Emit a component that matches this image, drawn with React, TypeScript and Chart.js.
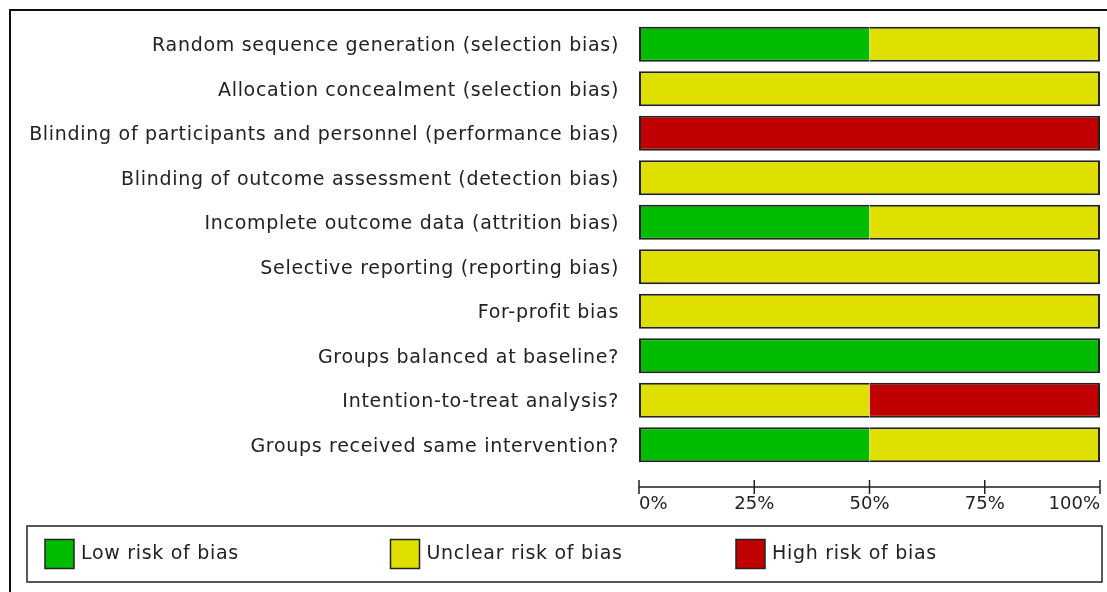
import React, { useEffect, useRef } from "react";
import { Chart, registerables } from "chart.js";

Chart.register(...registerables);

const categories = [
  "Random sequence generation (selection bias)",
  "Allocation concealment (selection bias)",
  "Blinding of participants and personnel (performance bias)",
  "Blinding of outcome assessment (detection bias)",
  "Incomplete outcome data (attrition bias)",
  "Selective reporting (reporting bias)",
  "For-profit bias",
  "Groups balanced at baseline?",
  "Intention-to-treat analysis?",
  "Groups received same intervention?",
];

const lowRisk = [50, 0, 0, 0, 50, 0, 0, 100, 0, 50];
const unclearRisk = [50, 100, 0, 100, 50, 100, 100, 0, 50, 50];
const highRisk = [0, 0, 100, 0, 0, 0, 0, 0, 50, 0];

const seriesLabels = ["Low risk of bias", "Unclear risk of bias", "High risk of bias"];
const seriesColors = ["#00BB00", "#E0E000", "#C00000"];

const xTickValues = [0, 25, 50, 75, 100];

const FONT = "'DejaVu Sans', Verdana, sans-serif";
const TEXT = "#222222";
const EDGE = "#222222";
const SPACING = "0.7px";

const allSeries = [lowRisk, unclearRisk, highRisk];

function segmentBorder(dsIndex: number, row: number) {
  const b = 2;
  if (allSeries[dsIndex][row] === 0) return 0;
  let first = true;
  for (let i = 0; i < dsIndex; i++) if (allSeries[i][row] > 0) first = false;
  let last = true;
  for (let i = dsIndex + 1; i < allSeries.length; i++) if (allSeries[i][row] > 0) last = false;
  return { top: b, bottom: b, left: first ? b : 0, right: last ? b : 0 };
}

const framePlugin = {
  id: "frame",
  beforeDraw(chart: any) {
    const ctx = chart.ctx;
    ctx.save();
    ctx.fillStyle = "#ffffff";
    ctx.fillRect(0, 0, chart.width, chart.height);
    ctx.strokeStyle = "#111111";
    ctx.lineWidth = 2;
    ctx.strokeRect(10, 10, chart.width + 50, chart.height + 50);
    ctx.restore();
    (ctx as any).letterSpacing = SPACING;
  },
};

const axisPlugin = {
  id: "customAxis",
  afterDraw(chart: any) {
    const ctx = chart.ctx;
    const x = chart.scales.x;
    const y0 = chart.chartArea.bottom + 20;
    ctx.save();
    (ctx as any).letterSpacing = "0px";
    ctx.strokeStyle = TEXT;
    ctx.lineWidth = 1.5;
    ctx.beginPath();
    ctx.moveTo(x.left, y0);
    ctx.lineTo(x.right, y0);
    x.ticks.forEach((t: any) => {
      const px = x.getPixelForValue(t.value);
      ctx.moveTo(px, y0 - 7);
      ctx.lineTo(px, y0 + 7);
    });
    ctx.stroke();
    ctx.fillStyle = TEXT;
    ctx.font = `18px ${FONT}`;
    ctx.textBaseline = "middle";
    const n = x.ticks.length;
    x.ticks.forEach((t: any, i: number) => {
      const px = x.getPixelForValue(t.value);
      ctx.textAlign = i === 0 ? "left" : i === n - 1 ? "right" : "center";
      ctx.fillText(`${t.value}%`, px, y0 + 17);
    });
    ctx.restore();
  },
};

const legendPlugin = {
  id: "boxLegend",
  afterDraw(chart: any) {
    const ctx = chart.ctx;
    const left = 27;
    const top = 526;
    const right = 1102;
    const bottom = 582;
    ctx.save();
    (ctx as any).letterSpacing = SPACING;
    ctx.strokeStyle = EDGE;
    ctx.lineWidth = 1.5;
    ctx.strokeRect(left, top, right - left, bottom - top);
    const cy = (top + bottom) / 2;
    chart.data.datasets.forEach((ds: any, i: number) => {
      const sx = left + 18 + i * 345.5;
      const size = 29;
      ctx.fillStyle = ds.backgroundColor;
      ctx.fillRect(sx, cy - size / 2, size, size);
      ctx.strokeStyle = EDGE;
      ctx.lineWidth = 1.5;
      ctx.strokeRect(sx, cy - size / 2, size, size);
      ctx.fillStyle = TEXT;
      ctx.font = `19px ${FONT}`;
      ctx.textBaseline = "middle";
      ctx.textAlign = "left";
      ctx.fillText(ds.label, sx + size + 7, cy);
    });
    ctx.restore();
  },
};

export default function App() {
  const ref = useRef<HTMLCanvasElement>(null);
  useEffect(() => {
    if (!ref.current) return;
    const datasets = allSeries.map((data, i) => ({
      label: seriesLabels[i],
      data,
      backgroundColor: seriesColors[i],
      borderColor: EDGE,
      borderWidth: (c: any) => segmentBorder(c.datasetIndex, c.dataIndex),
      borderSkipped: false,
      categoryPercentage: 1,
      barPercentage: 0.787,
    }));
    const chart = new Chart(ref.current, {
      type: "bar",
      data: { labels: categories, datasets },
      options: {
        indexAxis: "y",
        responsive: false,
        animation: false,
        devicePixelRatio: 1,
        layout: { padding: { top: 22, right: 7, left: 0, bottom: 125 } },
        plugins: { legend: { display: false }, tooltip: { enabled: false } },
        scales: {
          x: {
            stacked: true,
            min: 0,
            max: 100,
            afterBuildTicks: (scale: any) => {
              scale.ticks = xTickValues.map((v) => ({ value: v }));
            },
            afterFit: (scale: any) => {
              scale.height = 0;
            },
            grid: { display: false, drawTicks: false },
            border: { display: false },
            ticks: { display: false, padding: 0 },
          },
          y: {
            stacked: true,
            afterFit: (scale: any) => {
              scale.width = 639;
            },
            grid: { display: false, drawTicks: true, tickLength: 20 },
            border: { display: false },
            ticks: {
              padding: 0,
              labelOffset: 2,
              color: TEXT,
              font: { family: FONT, size: 19 },
            },
          },
        },
      },
      plugins: [framePlugin, axisPlugin, legendPlugin],
    });
    return () => chart.destroy();
  }, []);
  return (
    <div style={{ position: "absolute", left: 0, top: 0, width: 1107, height: 592 }}>
      <canvas ref={ref} width={1107} height={592} />
    </div>
  );
}
